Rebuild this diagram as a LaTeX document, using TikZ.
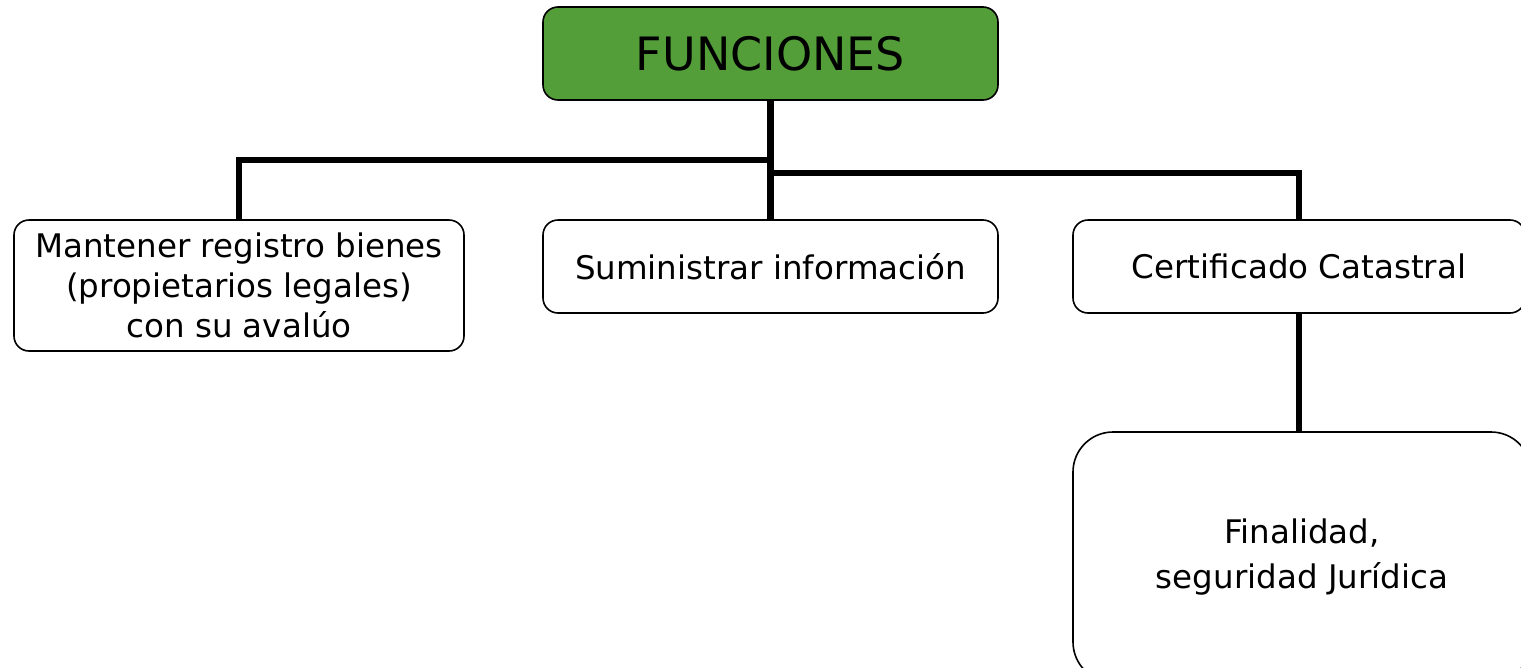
\documentclass[tikz,border=0pt]{standalone}
\usepackage{fontspec}
\setmainfont{DejaVu Sans}
\definecolor{boxgreen}{RGB}{84,158,58}
\tikzset{
  box/.style={draw=black, line width=1.6pt, rounded corners=15pt, align=center, inner sep=0pt, font=\fontsize{32.5}{40}\selectfont},
  conn/.style={line width=6.5pt, draw=black}
}
\begin{document}
\begin{tikzpicture}[x=1pt,y=-1pt]
\useasboundingbox (0,0) rectangle (1521,667);
\node[box, fill=boxgreen, minimum width=455pt, minimum height=93pt, font=\fontsize{46}{50}\selectfont] (top) at (770.5,53.5) {FUNCIONES};
\node[box, minimum width=450pt, minimum height=131pt] (left) at (239,285.5) {Mantener registro bienes\\(propietarios legales)\\con su avalúo};
\node[box, minimum width=455pt, minimum height=93pt] (mid) at (770.5,266.5) {Suministrar información};
\node[box, minimum width=452pt, minimum height=93pt] (right) at (1299,266.5) {Certificado Catastral};
\node[box, rounded corners=40pt, minimum width=458pt, minimum height=250pt, font=\fontsize{32.5}{45}\selectfont] (bot) at (1302,557) {Finalidad,\\seguridad Jurídica};
\draw[conn] (top.south) -- (mid.north);
\coordinate (jl) at (770.5,160);
\coordinate (jr) at (770.5,173);
\draw[conn] (jl) -| (left.north);
\draw[conn] (jr) -| (right.north);
\draw[conn] (right.south) -- (right.south |- bot.north);
\end{tikzpicture}
\end{document}
